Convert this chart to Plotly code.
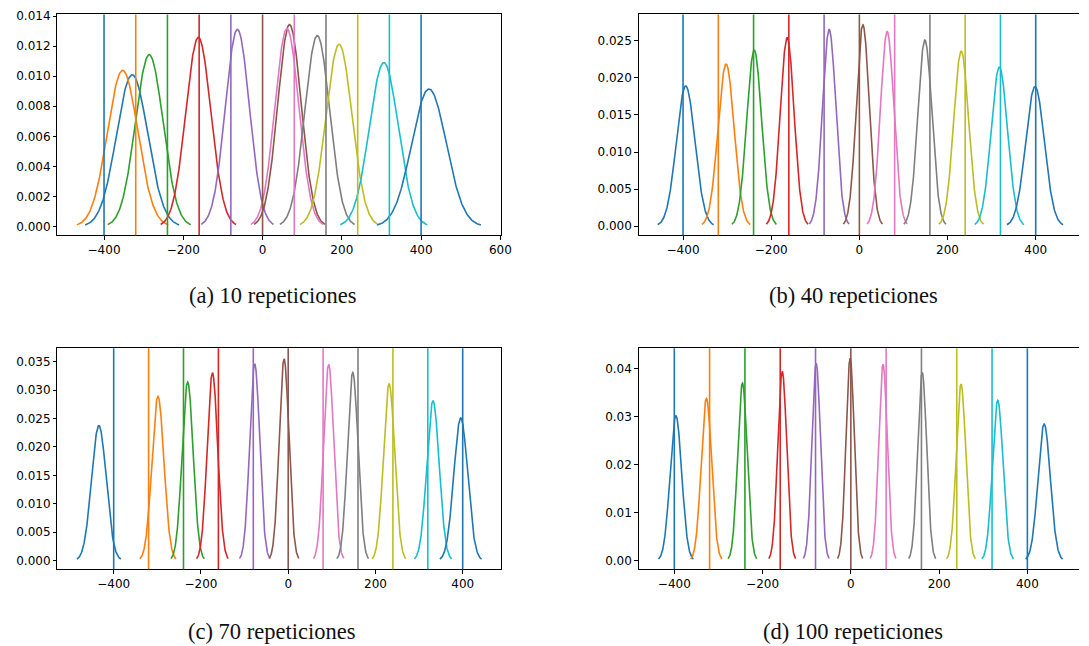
import numpy as np
import plotly.graph_objects as go

# Target positions (vertical reference lines) and colours
targets = [-400, -320, -240, -160, -80, 0, 80, 160, 240, 320, 400]
colors = ['#1f77b4', '#ff7f0e', '#2ca02c', '#d62728', '#9467bd', '#8c564b',
          '#e377c2', '#7f7f7f', '#bcbd22', '#17becf', '#1f77b4']

captions = ["(a) 10 repeticiones", "(b) 40 repeticiones",
            "(c) 70 repeticiones", "(d) 100 repeticiones"]

# Estimated Gaussian parameters (mean, std) per panel
mu_10 = [-329, -353, -286, -162, -63.5, 68, 61.5, 138, 193, 306, 420]
sd_10 = [39.5, 38.4, 34.9, 31.7, 30.4, 29.7, 30.3, 31.4, 32.9, 36.6, 43.6]

mu_40 = [-394, -302.4, -238.6, -163.8, -68.5, 7.9, 63, 148.6, 231, 317.5, 398.5]
sd_40 = [21.1, 18.25, 16.8, 15.7, 15.05, 14.7, 15.2, 15.9, 16.9, 18.6, 21.2]

mu_70 = [-434, -298.6, -230.5, -173.7, -76.8, -9.5, 92.7, 148, 231.2, 331.9, 395.5]
sd_70 = [16.8, 13.8, 12.7, 12.08, 11.53, 11.25, 11.57, 12.06, 12.83, 14.2, 15.9]

mu_100 = [-396.4, -327.3, -245.7, -155.4, -78.5, -1.6, 73, 161.7, 249.6, 332.8, 438]
sd_100 = [13.2, 11.78, 10.77, 10.11, 9.7, 9.45, 9.74, 10.17, 10.83, 11.93, 14.0]

panels = [(mu_10, sd_10), (mu_40, sd_40), (mu_70, sd_70), (mu_100, sd_100)]

W, H = 1089, 646
# axes boxes in pixels (left, right, top, bottom)
boxes = [(58, 506, 9.5, 232), (644.7, 1089, 9.5, 232),
         (58, 506, 346, 568.7), (644.7, 1089, 346, 568.7)]
xranges = [[-517.5, 602.5], [-500.4, 498.2], [-528.9, 488.6], [-480.5, 517]]
yranges = [[-0.000573, 0.01411], [-0.0012, 0.02854], [-0.00151, 0.03733], [-0.00179, 0.04428]]
ydticks = [0.002, 0.005, 0.005, 0.01]
yfmts = ['.3f', '.3f', '.3f', '.2f']
cap_pos = [(275.5, 293), (861, 293), (274.5, 631), (861, 631)]

fig = go.Figure()
shapes = []
annotations = []
tick_font = dict(family="DejaVu Sans", size=12, color="black")

for p, (mus, sds) in enumerate(panels):
    xa = 'x' if p == 0 else f'x{p+1}'
    ya = 'y' if p == 0 else f'y{p+1}'
    for i, (m, s) in enumerate(zip(mus, sds)):
        xs = np.linspace(m - 3 * s, m + 3 * s, 200)
        ys = np.exp(-0.5 * ((xs - m) / s) ** 2) / (s * np.sqrt(2 * np.pi))
        fig.add_trace(go.Scatter(x=xs, y=ys, mode='lines',
                                 line=dict(color=colors[i], width=1.6),
                                 xaxis=xa, yaxis=ya, showlegend=False,
                                 hoverinfo='skip'))
    for i, t in enumerate(targets):
        shapes.append(dict(type='line', xref=xa, yref=f'{ya} domain',
                           x0=t, x1=t, y0=0, y1=1,
                           line=dict(color=colors[i], width=1.6), layer='above'))
    l, r, t_, b = boxes[p]
    left_col = p in (0, 2)
    xkey = 'xaxis' if p == 0 else f'xaxis{p+1}'
    ykey = 'yaxis' if p == 0 else f'yaxis{p+1}'
    fig.layout[xkey] = dict(domain=[l / W, r / W], range=xranges[p], anchor=ya,
                            showline=True, linecolor='black', linewidth=1, mirror=True,
                            ticks='outside', ticklen=3.5, tickwidth=0.8, tickcolor='black',
                            dtick=200, tick0=0, showgrid=False, zeroline=False,
                            tickfont=tick_font)
    fig.layout[ykey] = dict(domain=[1 - b / H, 1 - t_ / H], range=yranges[p], anchor=xa,
                            showline=True, linecolor='black', linewidth=1,
                            mirror=True if left_col else False,
                            ticks='outside', ticklen=3.5, tickwidth=0.8, tickcolor='black',
                            dtick=ydticks[p], tick0=0, tickformat=yfmts[p],
                            showgrid=False, zeroline=False, tickfont=tick_font)
    cx, cy = cap_pos[p]
    annotations.append(dict(text=captions[p], x=cx / W, y=1 - cy / H, xref='paper', yref='paper',
                            xanchor='center', yanchor='middle', showarrow=False,
                            font=dict(family="Liberation Serif", size=22.5, color='#111')))

fig.update_layout(width=W, height=H, margin=dict(l=0, r=0, t=0, b=0),
                  plot_bgcolor='white', paper_bgcolor='white',
                  shapes=shapes, annotations=annotations, showlegend=False)

fig.write_html("out.html")
